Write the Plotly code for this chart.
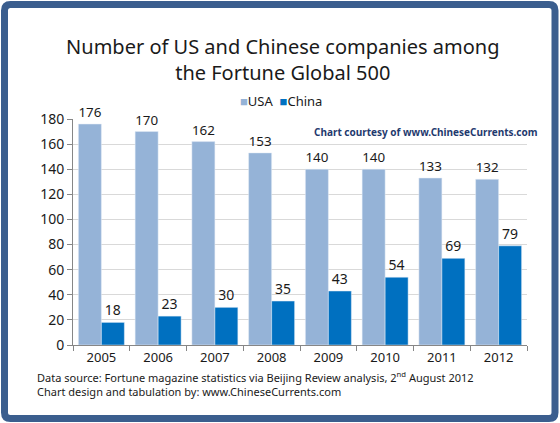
import plotly.graph_objects as go

# Data
years = ["2005", "2006", "2007", "2008", "2009", "2010", "2011", "2012"]
usa = [176, 170, 162, 153, 140, 140, 133, 132]
china = [18, 23, 30, 35, 43, 54, 69, 79]

W, H = 560, 423
L, R, T, B = 73, 33, 119, 78
pw, ph = W - L - R, H - T - B


def px(x):
    return (x - L) / pw


def py(y):
    return (H - B - y) / ph


font = "Noto Sans"
usa_color, china_color = "#95B3D7", "#0070C0"

fig = go.Figure()
fig.add_trace(go.Bar(x=years, y=usa, name="USA", marker_color=usa_color,
                     text=usa, textposition="outside", cliponaxis=False,
                     textfont=dict(size=14, color="#1a1a1a")))
fig.add_trace(go.Bar(x=years, y=china, name="China", marker_color=china_color,
                     text=china, textposition="outside", cliponaxis=False,
                     textfont=dict(size=14, color="#1a1a1a")))

# Frame round the whole picture (rounded rectangle, drawn in pixels)
x0, x1, y0, y1, r = 4.5, 555, 4.5, 418.5, 6
path = (f"M {px(x0 + r)},{py(y0)} L {px(x1 - r)},{py(y0)} "
        f"Q {px(x1)},{py(y0)} {px(x1)},{py(y0 + r)} L {px(x1)},{py(y1 - r)} "
        f"Q {px(x1)},{py(y1)} {px(x1 - r)},{py(y1)} L {px(x0 + r)},{py(y1)} "
        f"Q {px(x0)},{py(y1)} {px(x0)},{py(y1 - r)} L {px(x0)},{py(y0 + r)} "
        f"Q {px(x0)},{py(y0)} {px(x0 + r)},{py(y0)} Z")
fig.add_shape(type="path", path=path, xref="paper", yref="paper",
              line=dict(color="#3B5E8E", width=7), layer="above")

# Legend drawn as text with coloured squares
fig.add_annotation(text=f"<span style='color:{usa_color}'>■</span>USA  "
                        f"<span style='color:{china_color}'>■</span>China",
                   x=px(238), y=py(101), xref="paper", yref="paper",
                   showarrow=False, font=dict(size=13, color="#1a1a1a", family=font),
                   xanchor="left", yanchor="middle")

fig.add_annotation(text="<b>Chart courtesy of www.ChineseCurrents.com</b>",
                   x=px(426), y=py(132), xref="paper", yref="paper",
                   showarrow=False, font=dict(size=10, color="#1F3A6E", family=font),
                   xanchor="center", yanchor="middle")
fig.add_annotation(text="Data source: Fortune magazine statistics via Beijing Review analysis, "
                        "2<sup>nd</sup> August 2012<br>"
                        "Chart design and tabulation by: www.ChineseCurrents.com",
                   x=px(35), y=py(367), xref="paper", yref="paper", align="left",
                   showarrow=False, font=dict(size=11, color="#1a1a1a", family=font),
                   xanchor="left", yanchor="top")

fig.update_layout(
    width=W, height=H,
    margin=dict(l=L, r=R, t=T, b=B),
    paper_bgcolor="white", plot_bgcolor="white",
    font=dict(family=font, color="#1a1a1a"),
    title=dict(text="Number of US and Chinese companies among<br>the Fortune Global 500",
               x=0.505, xanchor="center", y=1 - 54 / H, yanchor="top",
               font=dict(size=20, color="#1a1a1a")),
    barmode="group", bargap=0.19, bargroupgap=0,
    showlegend=False,
    xaxis=dict(type="category", showline=True, linecolor="#868686", ticks="outside",
               tickson="boundaries", ticklen=5, tickcolor="#868686",
               tickfont=dict(size=13), showgrid=False),
    yaxis=dict(range=[0, 180], dtick=20, showline=True, linecolor="#868686",
               ticks="outside", ticklen=5, tickcolor="#868686",
               tickfont=dict(size=14), showgrid=True, gridcolor="#D9D9D9",
               zeroline=False),
)

fig.write_html("out.html", config={"displayModeBar": False})

# Remove the default page margin so the figure sits at the window's corner
with open("out.html", encoding="utf-8") as f:
    html = f.read()
html = html.replace("<body>", '<body style="margin:0">', 1)
with open("out.html", "w", encoding="utf-8") as f:
    f.write(html)
